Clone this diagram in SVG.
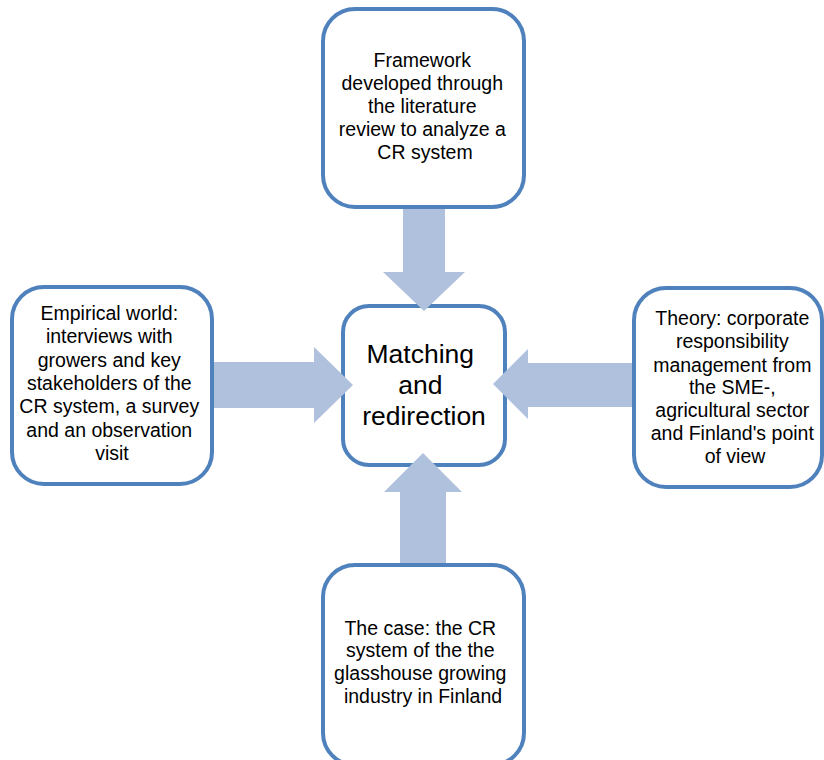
<svg xmlns="http://www.w3.org/2000/svg" width="824" height="760" viewBox="0 0 824 760">
  <style>
    .box { fill: #ffffff; stroke: #4F81BD; stroke-width: 4; }
    .arrow { fill: #B0C1DE; stroke: none; }
    .label { font-family: "Liberation Sans", Arial, sans-serif; font-size: 19.5px; fill: #000000; text-anchor: middle; }
    .hub { font-family: "Liberation Sans", Arial, sans-serif; font-size: 26.5px; fill: #000000; text-anchor: middle; }
  </style>
  <rect width="824" height="760" fill="#ffffff"/>

  <!-- Outer boxes -->
  <g id="framework">
    <rect class="box" x="323" y="9" width="201" height="198" rx="32" ry="32"/>
    <text class="label">
      <tspan x="425" y="67">Framework</tspan>
      <tspan x="425" y="90">developed through</tspan>
      <tspan x="425" y="113">the literature</tspan>
      <tspan x="425" y="136">review to analyze a</tspan>
      <tspan x="425" y="159">CR system</tspan>
    </text>
  </g>

  <g id="empirical-world">
    <rect class="box" x="12" y="287" width="200" height="197" rx="32" ry="32"/>
    <text class="label">
      <tspan x="112" y="320">Empirical world:</tspan>
      <tspan x="112" y="343">interviews with</tspan>
      <tspan x="112" y="367">growers and key</tspan>
      <tspan x="112" y="390">stakeholders of the</tspan>
      <tspan x="112" y="413">CR system, a survey</tspan>
      <tspan x="112" y="437">and an observation</tspan>
      <tspan x="112" y="460">visit</tspan>
    </text>
  </g>

  <g id="theory">
    <rect class="box" x="634" y="288" width="188" height="199" rx="32" ry="32"/>
    <text class="label">
      <tspan x="735" y="325">Theory: corporate</tspan>
      <tspan x="735" y="348">responsibility</tspan>
      <tspan x="735" y="372">management from</tspan>
      <tspan x="735" y="394">the SME-,</tspan>
      <tspan x="735" y="417">agricultural sector</tspan>
      <tspan x="735" y="440">and Finland's point</tspan>
      <tspan x="735" y="463">of view</tspan>
    </text>
  </g>

  <g id="the-case">
    <rect class="box" x="323" y="565" width="201" height="200" rx="32" ry="32"/>
    <text class="label">
      <tspan x="423" y="635">The case: the CR</tspan>
      <tspan x="423" y="657">system of the the</tspan>
      <tspan x="423" y="680">glasshouse growing</tspan>
      <tspan x="423" y="703">industry in Finland</tspan>
    </text>
  </g>

  <!-- Central node -->
  <g id="matching">
    <rect class="box" x="343" y="306" width="162" height="159" rx="26" ry="26"/>
    <text class="hub">
      <tspan x="424" y="363">Matching</tspan>
      <tspan x="424" y="394">and</tspan>
      <tspan x="424" y="425">redirection</tspan>
    </text>
  </g>

  <!-- Block arrows pointing into the central node -->
  <g id="connectors">
    <polygon class="arrow" points="403,209 445,209 445,272 465,272 424,311 383,272 403,272"/>
    <polygon class="arrow" points="214,362 314,362 314,347 353,385 314,423 314,408 214,408"/>
    <polygon class="arrow" points="632,363 528,363 528,349 493,384 528,419 528,407 632,407"/>
    <polygon class="arrow" points="400,563 400,492 384,492 423,453 462,492 446,492 446,563"/>
  </g>
</svg>
